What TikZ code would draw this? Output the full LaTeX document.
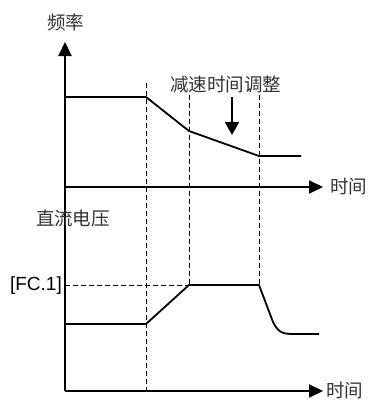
\documentclass[tikz,border=0pt]{standalone}
\usepackage{fontspec}
\setmainfont{Liberation Sans}
\newfontfamily\cjk{Noto Sans CJK SC}
\usetikzlibrary{arrows.meta,positioning}

\begin{document}
\begin{tikzpicture}[x=1pt, y=-1pt,
  axis/.style={line width=2pt, -{Triangle[length=14pt,width=13pt]}},
  curve/.style={line width=1.8pt, line join=round},
  guide/.style={line width=0.9pt, dash pattern=on 5pt off 3pt},
  lbl/.style={font=\cjk\fontsize{18.5}{22}\selectfont, text=black!80, inner sep=0pt}]
\useasboundingbox (0,0) rectangle (372,400);
% axes
\coordinate (o) at (65,391);
\coordinate (fmax) at (65,42);
\coordinate (f0) at (65,187);
\coordinate (ftend) at (323,187);
\coordinate (vtend) at (323,391);
\draw[axis] (o) -- (fmax);
\draw[axis] (f0) -- (ftend);
\draw[axis] (o) -- (vtend);
\node[lbl] (flabel) at (66,22) {频率};
\node[lbl, anchor=west] (ftime) at (330,187) {时间};
\node[lbl] (vlabel) at (73,218) {直流电压};
\node[lbl, anchor=west] (vtime) at (326,391) {时间};
\node[font=\fontsize{19}{22}\selectfont, inner sep=0pt, anchor=east] (fc) at (62,286) {[FC.1]};
% frequency curve
\coordinate (a1) at (65,97);
\coordinate (a2) at (146,97);
\coordinate (a3) at (189,131);
\coordinate (a4) at (259,156);
\coordinate (a5) at (301,156);
\draw[curve] (a1) -- (a2) -- (a3) -- (a4) -- (a5);
% voltage curve
\coordinate (b1) at (65,324);
\coordinate (b2) at (146,324);
\coordinate (b3) at (189,285);
\coordinate (b4) at (259,285);
\coordinate (b5) at (319,334);
\draw[curve] (b1) -- (b2) -- (b3) -- (b4) -- (273,322) .. controls (279,334) and (284,334) .. (296,334) -- (b5);
% guides
\draw[guide] (146,83) -- (146,391);
\draw[guide] (189,95) -- (b3);
\draw[guide] (259,95) -- (b4);
\draw[guide] (65,285) -- (b3);
% adjustment note
\node[lbl] (note) at (226,85) {减速时间调整};
\coordinate (tip) at (232,135);
\draw[line width=2pt, -{Triangle[length=13pt,width=14pt]}] (232,97) -- (tip);
\end{tikzpicture}
\end{document}
